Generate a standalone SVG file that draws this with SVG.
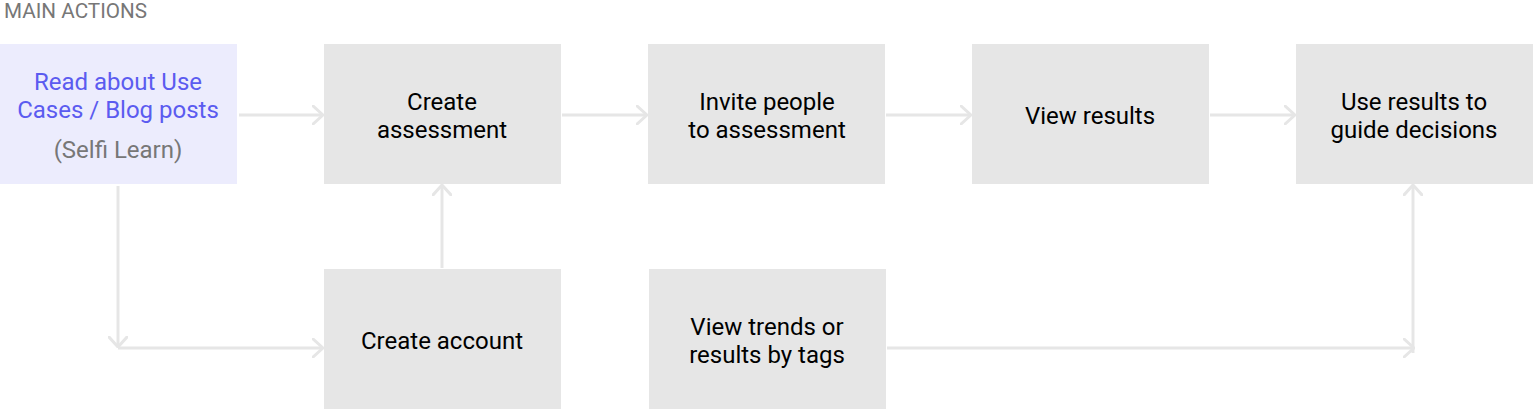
<svg xmlns="http://www.w3.org/2000/svg" width="1533" height="410" viewBox="0 0 1533 410">
<style>
.box{fill:#e6e6e6}
.t{font-family:Roboto,"Liberation Sans",sans-serif;font-size:24px;fill:#000;text-anchor:middle}
.c{fill:none;stroke:#e6e6e6;stroke-width:3}
</style>
<defs>
<marker id="ah" viewBox="0 0 12 20" refX="11" refY="10" markerWidth="12" markerHeight="20" markerUnits="userSpaceOnUse" orient="auto">
<path d="M1,1 L11,10 L1,19" fill="none" stroke="#e6e6e6" stroke-width="3" stroke-linecap="round"/>
</marker>
</defs>
<rect width="1533" height="410" fill="#fff"/>
<text x="4" y="18" style="font-family:Roboto,'Liberation Sans',sans-serif;font-size:20.7px;fill:#777">MAIN ACTIONS</text>
<g id="connectors">
<path class="c" d="M239,115 H323" marker-end="url(#ah)"/>
<path class="c" d="M562,115 H647" marker-end="url(#ah)"/>
<path class="c" d="M886,115 H971" marker-end="url(#ah)"/>
<path class="c" d="M1210,115 H1295" marker-end="url(#ah)"/>
<path class="c" d="M118,186 V347" marker-end="url(#ah)"/>
<path class="c" d="M118,348 H323" marker-end="url(#ah)"/>
<path class="c" d="M442,268 V185" marker-end="url(#ah)"/>
<path class="c" d="M887,348 H1414" marker-end="url(#ah)"/>
<path class="c" d="M1413,353 V185" marker-end="url(#ah)"/>
</g>
<g id="n-read">
<rect x="0" y="44" width="237" height="140" fill="#ececfd"/>
<text class="t" x="118" y="90" style="fill:#5b5bf0">Read about Use</text>
<text class="t" x="118" y="118" style="fill:#5b5bf0">Cases / Blog posts</text>
<text class="t" x="118" y="158" style="fill:#777">(Selfi Learn)</text>
</g>
<g id="n-create">
<rect class="box" x="324" y="44" width="237" height="140"/>
<text class="t" x="442" y="110">Create</text>
<text class="t" x="442" y="138">assessment</text>
</g>
<g id="n-invite">
<rect class="box" x="648" y="44" width="237" height="140"/>
<text class="t" x="767" y="110">Invite people</text>
<text class="t" x="767" y="138">to assessment</text>
</g>
<g id="n-view">
<rect class="box" x="972" y="44" width="237" height="140"/>
<text class="t" x="1090" y="124">View results</text>
</g>
<g id="n-use">
<rect class="box" x="1296" y="44" width="237" height="140"/>
<text class="t" x="1414" y="110">Use results to</text>
<text class="t" x="1414" y="138">guide decisions</text>
</g>
<g id="n-account">
<rect class="box" x="324" y="269" width="237" height="140"/>
<text class="t" x="442" y="349">Create account</text>
</g>
<g id="n-trends">
<rect class="box" x="649" y="269" width="237" height="140"/>
<text class="t" x="767" y="335">View trends or</text>
<text class="t" x="767" y="363">results by tags</text>
</g>
</svg>
